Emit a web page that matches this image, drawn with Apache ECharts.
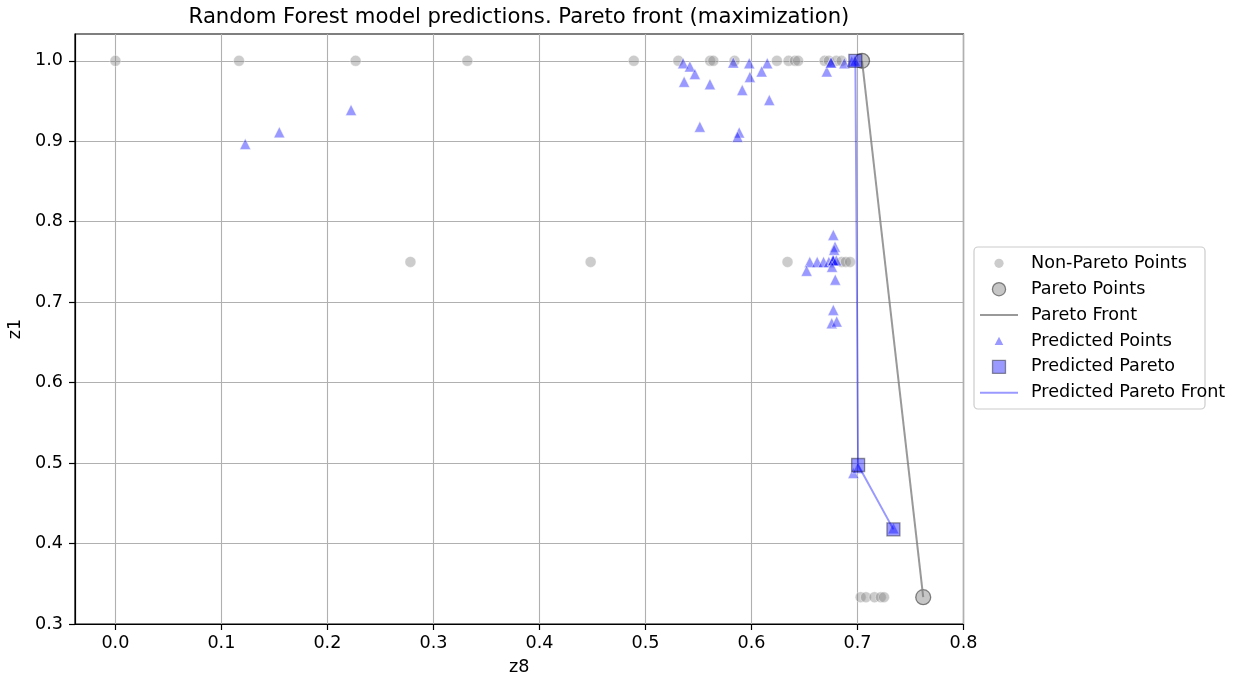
<!DOCTYPE html>
<html>
<head>
<meta charset="utf-8">
<title>Random Forest model predictions</title>
<script src="https://cdn.jsdelivr.net/npm/echarts@6/dist/echarts.min.js"></script>
<style>
  html, body { margin: 0; padding: 0; background: #ffffff; }
  #chart { width: 1239px; height: 681px; }
</style>
</head>
<body>
<div id="chart"></div>
<script>
// Observed (dominated) points: z8 vs z1
const nonParetoX = [0.0, 0.1166, 0.2266, 0.332, 0.489, 0.531, 0.561, 0.564, 0.584, 0.624, 0.635, 0.641, 0.644, 0.669, 0.673, 0.680, 0.685,
                    0.2783, 0.4483, 0.634, 0.685, 0.689, 0.693,
                    0.703, 0.708, 0.716, 0.722, 0.725];
const nonParetoY = [1.0, 1.0, 1.0, 1.0, 1.0, 1.0, 1.0, 1.0, 1.0, 1.0, 1.0, 1.0, 1.0, 1.0, 1.0, 1.0, 1.0,
                    0.75, 0.75, 0.75, 0.75, 0.75, 0.75,
                    0.3333, 0.3333, 0.3333, 0.3333, 0.3333];

// Observed Pareto-optimal points (also the front, in order)
const paretoX = [0.7043, 0.762];
const paretoY = [1.0, 0.3333];

// Model predictions
const predX = [0.1225, 0.1546, 0.2223,
               0.5355, 0.5419, 0.5466, 0.5365, 0.5608, 0.5828, 0.5979, 0.5985, 0.5913, 0.6149, 0.6096, 0.6168,
               0.5513, 0.5884, 0.5869,
               0.671, 0.675, 0.675, 0.6876, 0.6946, 0.6977,
               0.6772, 0.6788, 0.678, 0.655, 0.652, 0.662, 0.668, 0.673, 0.677, 0.677, 0.677, 0.680, 0.676, 0.679,
               0.6772, 0.6757, 0.6804,
               0.6961, 0.7003, 0.7339];
const predY = [0.8966, 0.9111, 0.9388,
               0.9971, 0.993, 0.9835, 0.9739, 0.971, 0.9978, 0.997, 0.980, 0.9636, 0.997, 0.9868, 0.9512,
               0.918, 0.911, 0.9056,
               0.9868, 0.998, 0.998, 0.997, 0.999, 1.0,
               0.7836, 0.769, 0.765, 0.750, 0.739, 0.750, 0.750, 0.750, 0.752, 0.752, 0.752, 0.752, 0.744, 0.728,
               0.6904, 0.6738, 0.6759,
               0.4876, 0.4938, 0.419];

// Predicted Pareto front (in order)
const predParetoX = [0.698, 0.7006, 0.7339];
const predParetoY = [1.0, 0.4976, 0.4176];

// Tick values on both axes
const xTicks = [0.0, 0.1, 0.2, 0.3, 0.4, 0.5, 0.6, 0.7, 0.8];
const yTicks = [0.3, 0.4, 0.5, 0.6, 0.7, 0.8, 0.9, 1.0];

// Legend entries, top to bottom
const legendLabels = ['Non-Pareto Points', 'Pareto Points', 'Pareto Front',
                      'Predicted Points', 'Predicted Pareto', 'Predicted Pareto Front'];

const zip = (xs, ys) => xs.map((x, i) => [x, ys[i]]);

const FONT = 'DejaVu Sans';
const FS = 17.6;
const GRID = { left: 75, top: 34, width: 888.5, height: 590 };

const isTick = (ticks) => (v) => ticks.some(t => Math.abs(t - v) < 1e-6);
const labelFor = (ticks) => (v) => isTick(ticks)(v) ? v.toFixed(1) : '';

const axisCommon = {
  type: 'value',
  axisLine: { show: true, onZero: false, lineStyle: { color: '#000', width: 1.2 } },
  axisTick: { show: true, inside: false, length: 6, lineStyle: { color: '#000', width: 1.2 } },
  splitLine: { show: true, lineStyle: { color: '#b0b0b0', width: 1.1 } },
  nameLocation: 'middle',
  nameTextStyle: { color: '#000', fontFamily: FONT, fontSize: FS }
};
const labelCommon = { color: '#000', fontFamily: FONT, fontSize: FS };

// Hand-laid legend: marker column, then text column
const legendX = 999, legendTextX = 1031, legendRowY0 = 263.3, legendRowGap = 25.9;
const rowY = i => legendRowY0 + i * legendRowGap;
const legendMarkers = [
  { type: 'circle', shape: { cx: legendX, cy: rowY(0), r: 4.6 },
    style: { fill: 'rgba(128,128,128,0.4)' } },
  { type: 'circle', shape: { cx: legendX, cy: rowY(1), r: 6.6 },
    style: { fill: 'rgba(128,128,128,0.45)', stroke: 'rgba(0,0,0,0.45)', lineWidth: 1.3 } },
  { type: 'line', shape: { x1: 980, y1: rowY(2), x2: 1018, y2: rowY(2) },
    style: { stroke: 'rgba(128,128,128,0.8)', lineWidth: 2 } },
  { type: 'polygon', shape: { points: [[legendX, rowY(3) - 4.2], [legendX - 4.3, rowY(3) + 4], [legendX + 4.3, rowY(3) + 4]] },
    style: { fill: 'rgba(0,0,255,0.4)' } },
  { type: 'rect', shape: { x: legendX - 6.5, y: rowY(4) - 6.5, width: 13, height: 13 },
    style: { fill: 'rgba(0,0,255,0.4)', stroke: 'rgba(0,0,0,0.4)', lineWidth: 1.3 } },
  { type: 'line', shape: { x1: 980, y1: rowY(5), x2: 1018, y2: rowY(5) },
    style: { stroke: 'rgba(0,0,255,0.4)', lineWidth: 2 } }
];
const legendTexts = legendLabels.map((t, i) => ({
  type: 'text', x: legendTextX, y: rowY(i),
  style: { text: t, fill: '#000', fontFamily: FONT, fontSize: FS, verticalAlign: 'middle', align: 'left' }
}));

const chart = echarts.init(document.getElementById('chart'), null, { renderer: 'canvas' });

chart.setOption({
  animation: false,
  backgroundColor: '#ffffff',
  title: {
    text: 'Random Forest model predictions. Pareto front (maximization)',
    left: 519,
    textAlign: 'center',
    top: 7,
    padding: 0,
    textStyle: { color: '#000', fontFamily: FONT, fontSize: 21.2, fontWeight: 'normal' }
  },
  grid: Object.assign({
    show: true, borderColor: '#000', borderWidth: 1.2, backgroundColor: 'transparent',
    containLabel: false, outerBoundsMode: 'none'
  }, GRID),
  xAxis: Object.assign({}, axisCommon, {
    min: -0.0381, max: 0.8, splitNumber: 8,
    name: 'z8', nameGap: 34,
    axisTick: Object.assign({}, axisCommon.axisTick, { customValues: xTicks }),
    axisLabel: Object.assign({}, labelCommon, { margin: 10, formatter: labelFor(xTicks) })
  }),
  yAxis: Object.assign({}, axisCommon, {
    min: 0.3, max: 1.0333, splitNumber: 7,
    name: 'z1', nameGap: 45,
    axisTick: Object.assign({}, axisCommon.axisTick, { customValues: yTicks }),
    axisLabel: Object.assign({}, labelCommon, { margin: 12, formatter: labelFor(yTicks) })
  }),
  graphic: [{
    type: 'rect',
    shape: { x: 974, y: 247, width: 231, height: 162, r: 4 },
    style: { fill: 'rgba(255,255,255,0.8)', stroke: '#cccccc', lineWidth: 1.2 }
  }].concat(legendMarkers, legendTexts),
  series: [
    {
      name: 'Non-Pareto Points', type: 'scatter', symbol: 'circle', symbolSize: 11,
      data: zip(nonParetoX, nonParetoY),
      itemStyle: { color: 'gray', borderColor: '#ffffff', borderWidth: 1, opacity: 0.4 },
      emphasis: { disabled: true }, z: 2
    },
    {
      name: 'Pareto Points', type: 'scatter', symbol: 'circle', symbolSize: 15,
      data: zip(paretoX, paretoY),
      itemStyle: { color: 'gray', borderColor: '#000000', borderWidth: 1.3, opacity: 0.45 },
      emphasis: { disabled: true }, z: 3
    },
    {
      name: 'Pareto Front', type: 'line', symbol: 'none',
      data: zip(paretoX, paretoY),
      lineStyle: { color: 'gray', width: 2, opacity: 0.8 },
      itemStyle: { color: 'gray' },
      emphasis: { disabled: true }, z: 4
    },
    {
      name: 'Predicted Points', type: 'scatter', symbol: 'triangle', symbolSize: 11,
      data: zip(predX, predY),
      itemStyle: { color: 'blue', borderColor: '#ffffff', borderWidth: 1, opacity: 0.4 },
      emphasis: { disabled: true }, z: 5
    },
    {
      name: 'Predicted Pareto', type: 'scatter', symbol: 'rect', symbolSize: 13,
      data: zip(predParetoX, predParetoY),
      itemStyle: { color: 'blue', borderColor: '#000000', borderWidth: 1.3, opacity: 0.4 },
      emphasis: { disabled: true }, z: 6
    },
    {
      name: 'Predicted Pareto Front', type: 'line', symbol: 'none',
      data: zip(predParetoX, predParetoY),
      lineStyle: { color: 'blue', width: 2, opacity: 0.4 },
      itemStyle: { color: 'blue' },
      emphasis: { disabled: true }, z: 7
    }
  ]
});
</script>
</body>
</html>
